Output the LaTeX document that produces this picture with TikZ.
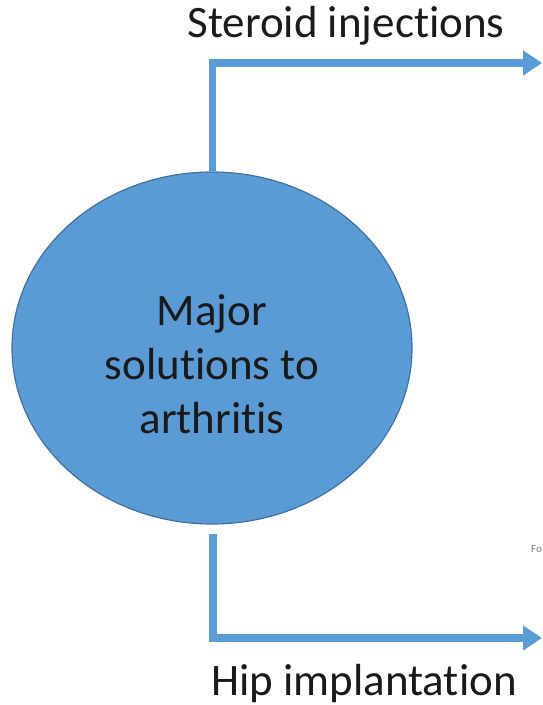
\documentclass[tikz,border=0pt]{standalone}
\usepackage{fontspec}
\setmainfont{Carlito}[RawFeature=-liga]
\usetikzlibrary{shapes.geometric, arrows.meta, positioning}
\definecolor{solblue}{HTML}{5B9BD5}
\definecolor{soledge}{HTML}{41719C}
\definecolor{soltext}{HTML}{1A1A1A}

\begin{document}
\begin{tikzpicture}[x=1pt, y=-1pt,
    topic/.style={ellipse, draw=soledge, line width=1.2pt, fill=solblue, minimum width=400pt, minimum height=352pt, inner sep=0pt},
    topictext/.style={align=center, text=soltext, font=\fontsize{45}{54}\selectfont},
    arrow/.style={-{Triangle[length=19pt, width=24pt]}, line width=7.5pt, draw=solblue},
    label/.style={anchor=base, text=soltext, font=\fontsize{45}{54}\selectfont},
]
\useasboundingbox (0,0) rectangle (542,705);

\node[topic] (main) at (212, 348) {};
\node[topictext] (maintext) at ([yshift=-16pt]main.center) {Major\\solutions to\\arthritis};
\node[label] (steroid) at (346, 37) {Steroid injections};
\node[label] (hip) at (364, 695) {Hip implantation};
\node[anchor=base west, inner sep=0pt, text=gray, font=\fontsize{11}{13}\selectfont] (cut) at (531, 552) {Fo};

\coordinate (tipA) at (542, 63);
\coordinate (tipB) at (542, 638);

\draw[arrow] ([xshift=0.5pt]main.north) |- (tipA);
\draw[arrow] ([xshift=1pt, yshift=-9pt]main.south) |- (tipB);

\end{tikzpicture}
\end{document}
